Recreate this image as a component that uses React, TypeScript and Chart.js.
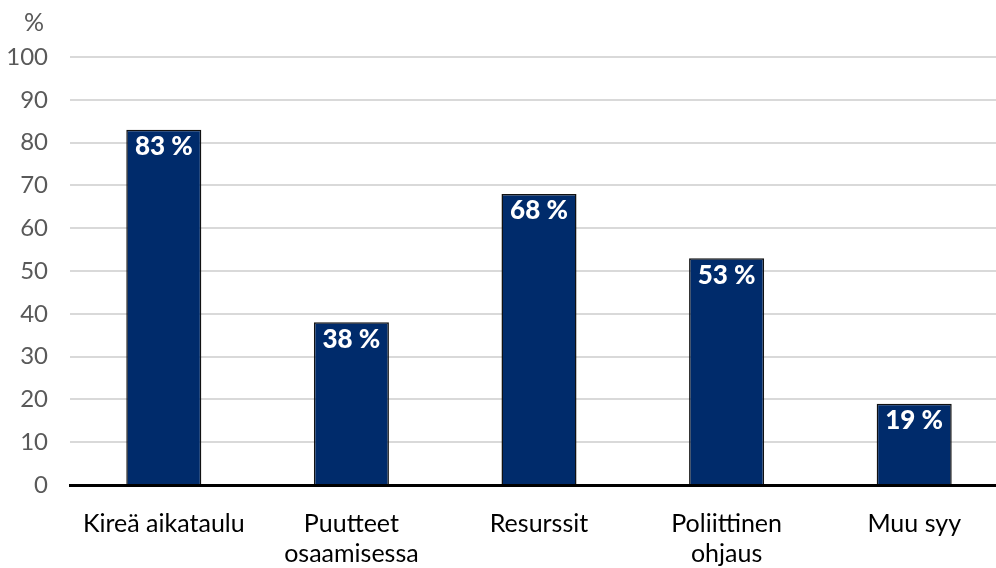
import React, { useEffect, useRef } from "react";
import { Chart, registerables } from "chart.js";

Chart.register(...registerables);

const categories: (string | string[])[] = [
  "Kireä aikataulu",
  ["Puutteet", "osaamisessa"],
  "Resurssit",
  ["Poliittinen", "ohjaus"],
  "Muu syy",
];
const values: number[] = [83, 38, 68, 53, 19];
const valueLabels: string[] = ["83 %", "38 %", "68 %", "53 %", "19 %"];
const unitLabel = "%";

const FONT = "Lato, 'Open Sans', sans-serif";
const W = 1008;

const labelPlugin = {
  id: "labels",
  afterDatasetsDraw(chart: any) {
    const ctx = chart.ctx;
    const meta = chart.getDatasetMeta(0);
    ctx.save();
    ctx.fillStyle = "#ffffff";
    ctx.font = `900 26px ${FONT}`;
    ctx.textAlign = "center";
    ctx.textBaseline = "middle";
    meta.data.forEach((bar: any, i: number) => {
      ctx.fillText(valueLabels[i], bar.x, bar.y + 17);
    });
    ctx.restore();
    const y = chart.scales.y;
    ctx.save();
    ctx.fillStyle = "#595959";
    ctx.font = `25px ${FONT}`;
    ctx.textAlign = "center";
    ctx.textBaseline = "middle";
    ctx.fillText(unitLabel, 34, y.top - 34);
    ctx.restore();
  },
};

export default function App() {
  const ref = useRef<HTMLCanvasElement>(null);
  useEffect(() => {
    if (!ref.current) return;
    const chart = new Chart(ref.current, {
      type: "bar",
      data: {
        labels: categories,
        datasets: [
          {
            data: values,
            backgroundColor: "#002b6b",
            borderColor: "#111111",
            borderWidth: 1.5,
            barPercentage: 0.4,
            categoryPercentage: 1,
          },
        ],
      },
      options: {
        animation: false,
        responsive: false,
        maintainAspectRatio: false,
        layout: { padding: { top: 57, right: 0, left: 0, bottom: 0 } },
        plugins: {
          legend: { display: false },
          tooltip: { enabled: false },
        },
        scales: {
          x: {
            grid: { display: false, drawTicks: false },
            border: { display: true, color: "#000000", width: 3 },
            ticks: {
              color: "#000000",
              font: { family: FONT, size: 25, lineHeight: 1.2 },
              padding: 24,
              maxRotation: 0,
              autoSkip: false,
            },
            afterFit(scale: any) {
              scale.height = 83;
            },
          },
          y: {
            min: 0,
            max: 100,
            border: { display: false },
            grid: {
              color: (c: any) => (c.tick && c.tick.value === 0 ? "rgba(0,0,0,0)" : "#d9d9d9"),
              lineWidth: 2,
              drawTicks: false,
            },
            ticks: {
              stepSize: 10,
              color: "#595959",
              font: { family: FONT, size: 24 },
              padding: 22,
            },
            afterFit(scale: any) {
              scale.width = 70;
            },
          },
        },
      },
      plugins: [labelPlugin],
    });
    return () => chart.destroy();
  }, []);
  return (
    <div style={{ position: "fixed", left: 0, top: 0, width: 996, height: 568, background: "#fff", overflow: "hidden" }}>
      <canvas ref={ref} width={W} height={568} style={{ width: W, height: 568, display: "block" }} />
    </div>
  );
}
